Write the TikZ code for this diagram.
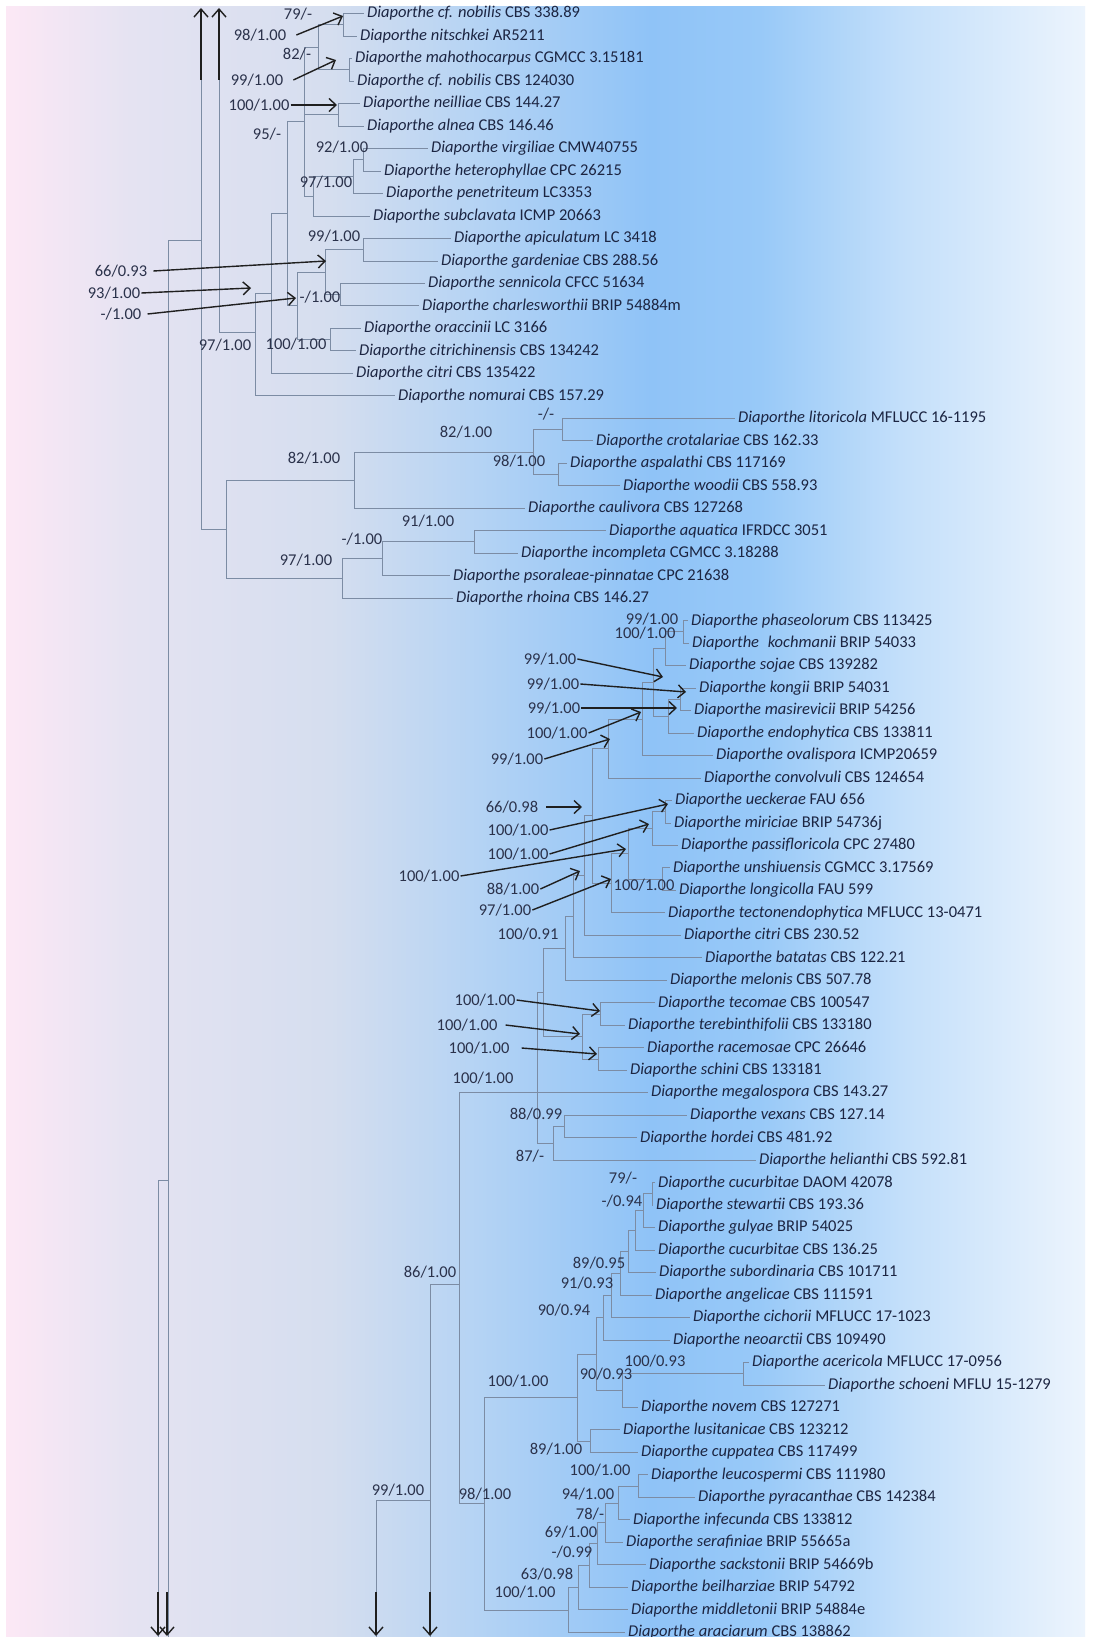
\documentclass[tikz,border=0pt]{standalone}
\usepackage{fontspec}
\newfontfamily\lab{Carlito}
\usetikzlibrary{arrows.meta}
\definecolor{txc}{HTML}{1C2542}
\definecolor{brc}{HTML}{7C8CA4}
\definecolor{g0}{HTML}{FCE8F5}
\definecolor{g1}{HTML}{E5E3F2}
\definecolor{g2}{HTML}{D5DEEF}
\definecolor{g3}{HTML}{B4D3F4}
\definecolor{g4}{HTML}{8FC3F7}
\definecolor{g5}{HTML}{98C9F8}
\definecolor{g6}{HTML}{C3DFFA}
\definecolor{g7}{HTML}{ECF4FD}
\newcommand\leaf[6]{\node[tl] (#1) at (#3,#2) {\textit{#5} #6};
  \draw[br] (#4,#2) -- ([xshift=-3pt]#1.west);}
\newcommand\bsl[4]{\node[sl] (#1) at (#2,#3) {#4};}
\newcommand\arl[6]{\node[sl] (#1) at (#2,#3) {#4};
  \draw[arr] ([xshift=#5]#1.east) -- #6;}
\begin{document}
\begin{tikzpicture}[x=1pt,y=-1pt,
  tl/.style={font=\lab\fontsize{16.5}{18}\selectfont, text=txc, inner sep=0pt, anchor=west},
  sl/.style={font=\lab\fontsize{16.5}{18}\selectfont, text=txc!85!gray, inner sep=0pt},
  br/.style={draw=brc, line width=0.75pt},
  arr/.style={draw=black!88, line width=1.4pt, -{Straight Barb[length=7pt,width=13pt,line width=1.4pt]}},
  arrv/.style={draw=black!88, line width=1.4pt, -{Straight Barb[length=8pt,width=14pt,line width=1.4pt]}}]
\useasboundingbox (0,0) rectangle (1092,1637);
\fill[white] (0,0) rectangle (1092,1637);
\shade[left color=g0,right color=g1] (6,7) rectangle (130.5,1637);
\shade[left color=g1,right color=g2] (130,7) rectangle (330.5,1637);
\shade[left color=g2,right color=g3] (330,7) rectangle (480.5,1637);
\shade[left color=g3,right color=g4] (480,7) rectangle (650.5,1637);
\shade[left color=g4,right color=g5] (650,7) rectangle (760.5,1637);
\shade[left color=g5,right color=g6] (760,7) rectangle (900.5,1637);
\shade[left color=g6,right color=g7] (900,7) rectangle (1085,1637);

% ---------- continuation lines ----------
\draw[br] (201,80) -- (201,529.25) -- (226,529.25);
\draw[br] (219,80) -- (219,332) -- (255,332);
\draw[br] (201,240) -- (168,240) -- (168,1637);
\draw[br] (168,1180) -- (158,1180) -- (158,1637);
\draw[br] (459,1284) -- (430,1284) -- (430,1637);
\draw[br] (430,1500) -- (376,1500) -- (376,1637);
\draw[arrv] (201,80) -- (201,8);
\draw[arrv] (219,80) -- (219,8);
\draw[arrv] (158,1592) -- (158,1636);
\draw[arrv] (167,1592) -- (167,1636);
\draw[arrv] (376,1592) -- (376,1636);
\draw[arrv] (430,1592) -- (430,1636);

% ---------- section A ----------
\leaf{t1}{13.6}{367}{343}{Diaporthe cf. nobilis}{CBS 338.89}
\leaf{t2}{36.1}{360}{343}{Diaporthe nitschkei}{AR5211}
\leaf{t3}{58.6}{355}{349}{Diaporthe mahothocarpus}{CGMCC 3.15181}
\leaf{t4}{81.0}{357}{349}{Diaporthe cf. nobilis}{CBS 124030}
\leaf{t5}{103.5}{363}{338}{Diaporthe neilliae}{CBS 144.27}
\leaf{t6}{126.0}{367}{338}{Diaporthe alnea}{CBS 146.46}
\leaf{t7}{148.5}{431}{363}{Diaporthe virgiliae}{CMW40755}
\leaf{t8}{171.0}{384}{363}{Diaporthe heterophyllae}{CPC 26215}
\leaf{t9}{193.4}{386}{353}{Diaporthe penetriteum}{LC3353}
\leaf{t10}{215.9}{373}{313}{Diaporthe subclavata}{ICMP 20663}
\leaf{t11}{238.4}{454}{363}{Diaporthe apiculatum}{LC 3418}
\leaf{t12}{260.9}{441}{363}{Diaporthe gardeniae}{CBS 288.56}
\leaf{t13}{283.4}{428}{340}{Diaporthe sennicola}{CFCC 51634}
\leaf{t14}{305.8}{422}{340}{Diaporthe charlesworthii}{BRIP 54884m}
\leaf{t15}{328.3}{364}{330}{Diaporthe oraccinii}{LC 3166}
\leaf{t16}{350.8}{359}{330}{Diaporthe citrichinensis}{CBS 134242}
\leaf{t17}{373.3}{356}{271}{Diaporthe citri}{CBS 135422}
\leaf{t18}{395.8}{398}{255}{Diaporthe nomurai}{CBS 157.29}
\draw[br] (343,13.6) -- (343,36.1);
\draw[br] (349,58.6) -- (349,81);
\draw[br] (343,24.85) -- (318,24.85) -- (318,69.8) -- (349,69.8);
\draw[br] (338,103.5) -- (338,126);
\draw[br] (363,148.5) -- (363,171);
\draw[br] (363,159.75) -- (353,159.75) -- (353,193.4);
\draw[br] (353,176.6) -- (313,176.6) -- (313,215.9);
\draw[br] (318,47.3) -- (304,47.3) -- (304,196.2) -- (313,196.2);
\draw[br] (304,114.75) -- (338,114.75);
\draw[br] (363,238.4) -- (363,260.9);
\draw[br] (340,283.4) -- (340,305.8);
\draw[br] (363,249.65) -- (325,249.65) -- (325,294.6) -- (340,294.6);
\draw[br] (330,328.3) -- (330,350.8);
\draw[br] (325,272.1) -- (297,272.1) -- (297,339.55) -- (330,339.55);
\draw[br] (304,121.8) -- (287,121.8) -- (287,305.8) -- (297,305.8);
\draw[br] (287,213.8) -- (271,213.8) -- (271,373.3);
\draw[br] (271,293.6) -- (255,293.6) -- (255,395.8);
\bsl{a1}{298}{14}{79/-}
\arl{a2}{260}{35}{98/1.00}{10pt}{(343,16)}
\bsl{a3}{297}{54}{82/-}
\arl{a4}{257}{80}{99/1.00}{10pt}{(336,60)}
\arl{a5}{259}{105}{100/1.00}{1pt}{(337,105)}
\bsl{a6}{267}{134}{95/-}
\bsl{a7}{342}{147}{92/1.00}
\bsl{a8}{326}{182}{97/1.00}
\bsl{a9}{334}{236}{99/1.00}
\arl{a10}{121}{271}{66/0.93}{6pt}{(326,261)}
\arl{a11}{114}{293}{93/1.00}{1pt}{(251,288)}
\arl{a12}{121}{314}{-/1.00}{6pt}{(296,298)}
\bsl{a13}{320}{297}{-/1.00}
\bsl{a14}{225}{345}{97/1.00}
\bsl{a15}{296}{344}{100/1.00}

% ---------- section B ----------
\leaf{t19}{418.2}{738}{562}{Diaporthe litoricola}{MFLUCC 16-1195}
\leaf{t20}{440.7}{596}{562}{Diaporthe crotalariae}{CBS 162.33}
\leaf{t21}{463.2}{570}{558}{Diaporthe aspalathi}{CBS 117169}
\leaf{t22}{485.7}{623}{558}{Diaporthe woodii}{CBS 558.93}
\leaf{t23}{508.2}{528}{354}{Diaporthe caulivora}{CBS 127268}
\leaf{t24}{530.6}{609}{474}{Diaporthe aquatica}{IFRDCC 3051}
\leaf{t25}{553.1}{521}{474}{Diaporthe incompleta}{CGMCC 3.18288}
\leaf{t26}{575.6}{453}{382}{Diaporthe psoraleae-pinnatae}{CPC 21638}
\leaf{t27}{598.1}{456}{342}{Diaporthe rhoina}{CBS 146.27}
\draw[br] (562,418.2) -- (562,440.7);
\draw[br] (558,463.2) -- (558,485.7);
\draw[br] (562,429.45) -- (533,429.45) -- (533,474.45) -- (558,474.45);
\draw[br] (533,451.95) -- (354,451.95) -- (354,508.2);
\draw[br] (474,530.6) -- (474,553.1);
\draw[br] (474,541.85) -- (382,541.85) -- (382,575.6);
\draw[br] (382,558.7) -- (342,558.7) -- (342,598.1);
\draw[br] (354,480.1) -- (226,480.1) -- (226,578.4) -- (342,578.4);
\bsl{b1}{546}{414}{-/-}
\bsl{b2}{466}{432}{82/1.00}
\bsl{b3}{314}{458}{82/1.00}
\bsl{b4}{519}{461}{98/1.00}
\bsl{b5}{428}{521}{91/1.00}
\bsl{b6}{362}{539}{-/1.00}
\bsl{b7}{306}{560}{97/1.00}

% ---------- section C ----------
\leaf{t28}{620.6}{691}{683}{Diaporthe phaseolorum}{CBS 113425}
\leaf{t29}{643.0}{692}{683}{Diaporthe\hspace{0.3em} kochmanii}{BRIP 54033}
\leaf{t30}{665.5}{689}{665}{Diaporthe sojae}{CBS 139282}
\leaf{t31}{688.0}{699}{680}{Diaporthe kongii}{BRIP 54031}
\leaf{t32}{710.5}{694}{680}{Diaporthe masirevicii}{BRIP 54256}
\leaf{t33}{733.0}{697}{668}{Diaporthe endophytica}{CBS 133811}
\leaf{t34}{755.4}{716}{642}{Diaporthe ovalispora}{ICMP20659}
\leaf{t35}{777.9}{704}{608}{Diaporthe convolvuli}{CBS 124654}
\leaf{t36}{800.4}{675}{665}{Diaporthe ueckerae}{FAU 656}
\leaf{t37}{822.9}{674}{665}{Diaporthe miriciae}{BRIP 54736j}
\leaf{t38}{845.4}{681}{652}{Diaporthe passifloricola}{CPC 27480}
\leaf{t39}{867.8}{673}{662}{Diaporthe unshiuensis}{CGMCC 3.17569}
\leaf{t40}{890.3}{679}{662}{Diaporthe longicolla}{FAU 599}
\leaf{t41}{912.8}{668}{611}{Diaporthe tectonendophytica}{MFLUCC 13-0471}
\leaf{t42}{935.3}{684}{584}{Diaporthe citri}{CBS 230.52}
\leaf{t43}{957.8}{705}{573}{Diaporthe batatas}{CBS 122.21}
\leaf{t44}{980.2}{670}{565}{Diaporthe melonis}{CBS 507.78}
\leaf{t45}{1002.7}{658}{600}{Diaporthe tecomae}{CBS 100547}
\leaf{t46}{1025.2}{628}{600}{Diaporthe terebinthifolii}{CBS 133180}
\leaf{t47}{1047.7}{647}{598}{Diaporthe racemosae}{CPC 26646}
\leaf{t48}{1070.2}{630}{598}{Diaporthe schini}{CBS 133181}
\leaf{t49}{1092.6}{651}{459}{Diaporthe megalospora}{CBS 143.27}
\leaf{t50}{1115.1}{690}{564}{Diaporthe vexans}{CBS 127.14}
\leaf{t51}{1137.6}{640}{564}{Diaporthe hordei}{CBS 481.92}
\leaf{t52}{1160.1}{759}{553}{Diaporthe helianthi}{CBS 592.81}
\draw[br] (683,620.6) -- (683,643.0);
\draw[br] (683,631.8) -- (665,631.8) -- (665,665.5);
\draw[br] (680,688) -- (680,710.5);
\draw[br] (680,699.25) -- (668,699.25) -- (668,733);
\draw[br] (665,648.65) -- (653,648.65) -- (653,716.1) -- (668,716.1);
\draw[br] (653,682.4) -- (642,682.4) -- (642,755.4);
\draw[br] (642,718.9) -- (608,718.9) -- (608,777.9);
\draw[br] (665,800.4) -- (665,822.9);
\draw[br] (665,811.65) -- (652,811.65) -- (652,845.4);
\draw[br] (662,867.8) -- (662,890.3);
\draw[br] (652,828.5) -- (628,828.5) -- (628,879.05) -- (662,879.05);
\draw[br] (628,853.8) -- (611,853.8) -- (611,912.8);
\draw[br] (608,748.4) -- (592,748.4) -- (592,883.3) -- (611,883.3);
\draw[br] (592,815.85) -- (584,815.85) -- (584,935.3);
\draw[br] (584,875.6) -- (573,875.6) -- (573,957.8);
\draw[br] (573,916.7) -- (565,916.7) -- (565,980.2);
\draw[br] (600,1002.7) -- (600,1025.2);
\draw[br] (598,1047.7) -- (598,1070.2);
\draw[br] (600,1013.95) -- (582,1013.95) -- (582,1058.95) -- (598,1058.95);
\draw[br] (565,948.45) -- (543,948.45) -- (543,1036.45) -- (582,1036.45);
\draw[br] (564,1115.1) -- (564,1137.6);
\draw[br] (564,1126.35) -- (553,1126.35) -- (553,1160.1);
\draw[br] (543,992.45) -- (537,992.45) -- (537,1143.2) -- (553,1143.2);
\bsl{c1}{652}{619}{99/1.00}
\bsl{c2}{645}{633}{100/1.00}
\arl{c3}{550}{659}{99/1.00}{1pt}{(663,677)}
\arl{c4}{553}{684}{99/1.00}{1pt}{(686,692)}
\arl{c5}{554}{708}{99/1.00}{1pt}{(677,708)}
\arl{c6}{557}{733}{100/1.00}{1pt}{(641,712)}
\arl{c7}{517}{759}{99/1.00}{1pt}{(610,739)}
\arl{c8}{512}{807}{66/0.98}{8pt}{(582,807)}
\arl{c9}{518}{830}{100/1.00}{1pt}{(668,804)}
\arl{c10}{518}{854}{100/1.00}{1pt}{(649,824)}
\arl{c11}{429}{876}{100/1.00}{1pt}{(626,849)}
\arl{c12}{513}{889}{88/1.00}{1pt}{(580,871)}
\arl{c13}{505}{910}{97/1.00}{1pt}{(611,879)}
\bsl{c14}{644}{885}{100/1.00}
\bsl{c15}{528}{934}{100/0.91}
\arl{c16}{485}{1000}{100/1.00}{1pt}{(600,1011)}
\arl{c17}{467}{1025}{100/1.00}{8pt}{(580,1034)}
\arl{c18}{479}{1048}{100/1.00}{12pt}{(597,1054)}
\bsl{c19}{483}{1078}{100/1.00}
\bsl{c20}{536}{1114}{88/0.99}
\bsl{c21}{530}{1156}{87/-}

% ---------- lower section ----------
\leaf{t53}{1182.6}{658}{652}{Diaporthe cucurbitae}{DAOM 42078}
\leaf{t54}{1205.0}{656}{652}{Diaporthe stewartii}{CBS 193.36}
\leaf{t55}{1227.5}{658}{643}{Diaporthe gulyae}{BRIP 54025}
\leaf{t56}{1250.0}{658}{635}{Diaporthe cucurbitae}{CBS 136.25}
\leaf{t57}{1272.5}{659}{628}{Diaporthe subordinaria}{CBS 101711}
\leaf{t58}{1295.0}{655}{620}{Diaporthe angelicae}{CBS 111591}
\leaf{t59}{1317.4}{693}{611}{Diaporthe cichorii}{MFLUCC 17-1023}
\leaf{t60}{1339.9}{673}{603}{Diaporthe neoarctii}{CBS 109490}
\leaf{t61}{1362.4}{752}{743}{Diaporthe acericola}{MFLUCC 17-0956}
\leaf{t62}{1384.9}{828}{743}{Diaporthe schoeni}{MFLU 15-1279}
\leaf{t63}{1407.4}{641}{622}{Diaporthe novem}{CBS 127271}
\leaf{t64}{1429.8}{623}{590}{Diaporthe lusitanicae}{CBS 123212}
\leaf{t65}{1452.3}{641}{590}{Diaporthe cuppatea}{CBS 117499}
\leaf{t66}{1474.8}{651}{638}{Diaporthe leucospermi}{CBS 111980}
\leaf{t67}{1497.3}{698}{638}{Diaporthe pyracanthae}{CBS 142384}
\leaf{t68}{1519.8}{633}{618}{Diaporthe infecunda}{CBS 133812}
\leaf{t69}{1542.2}{626}{605}{Diaporthe serafiniae}{BRIP 55665a}
\leaf{t70}{1564.7}{649}{597}{Diaporthe sackstonii}{BRIP 54669b}
\leaf{t71}{1587.2}{631}{589}{Diaporthe beilharziae}{BRIP 54792}
\leaf{t72}{1609.7}{631}{578}{Diaporthe middletonii}{BRIP 54884e}
\leaf{t73}{1632.2}{628}{568}{Diaporthe araciarum}{CBS 138862}
\draw[br] (652,1182.6) -- (652,1205);
\draw[br] (652,1193.8) -- (643,1193.8) -- (643,1227.5);
\draw[br] (643,1210.65) -- (635,1210.65) -- (635,1250);
\draw[br] (635,1230.3) -- (628,1230.3) -- (628,1272.5);
\draw[br] (628,1251.4) -- (620,1251.4) -- (620,1295);
\draw[br] (620,1273.2) -- (611,1273.2) -- (611,1317.4);
\draw[br] (611,1295.3) -- (603,1295.3) -- (603,1339.9);
\draw[br] (743,1362.4) -- (743,1384.9);
\draw[br] (743,1373.65) -- (622,1373.65) -- (622,1407.4);
\draw[br] (603,1317.6) -- (596,1317.6) -- (596,1390.5) -- (622,1390.5);
\draw[br] (590,1429.8) -- (590,1452.3);
\draw[br] (596,1354.05) -- (577,1354.05) -- (577,1441.05) -- (590,1441.05);
\draw[br] (638,1474.8) -- (638,1497.3);
\draw[br] (638,1486.05) -- (618,1486.05) -- (618,1519.8);
\draw[br] (618,1502.9) -- (605,1502.9) -- (605,1542.2);
\draw[br] (605,1522.55) -- (597,1522.55) -- (597,1564.7);
\draw[br] (597,1543.6) -- (589,1543.6) -- (589,1587.2);
\draw[br] (589,1565.4) -- (578,1565.4) -- (578,1609.7);
\draw[br] (578,1587.55) -- (568,1587.55) -- (568,1632.2);
\draw[br] (577,1397.55) -- (484,1397.55) -- (484,1609.9) -- (568,1609.9);
\draw[br] (459,1092.6) -- (459,1503.7) -- (484,1503.7);
\bsl{d1}{623}{1178}{79/-}
\bsl{d2}{622}{1201}{-/0.94}
\bsl{d3}{599}{1263}{89/0.95}
\bsl{d4}{587}{1283}{91/0.93}
\bsl{d5}{564}{1310}{90/0.94}
\bsl{d6}{655}{1361}{100/0.93}
\bsl{d7}{606}{1374}{90/0.93}
\bsl{d8}{518}{1381}{100/1.00}
\bsl{d9}{556}{1449}{89/1.00}
\bsl{d10}{600}{1470}{100/1.00}
\bsl{d11}{588}{1494}{94/1.00}
\bsl{d12}{590}{1514}{78/-}
\bsl{d13}{571}{1532}{69/1.00}
\bsl{d14}{572}{1552}{-/0.99}
\bsl{d15}{547}{1574}{63/0.98}
\bsl{d16}{525}{1592}{100/1.00}
\bsl{d17}{398}{1490}{99/1.00}
\bsl{d18}{485}{1494}{98/1.00}
\bsl{d19}{430}{1272}{86/1.00}
\end{tikzpicture}
\end{document}
